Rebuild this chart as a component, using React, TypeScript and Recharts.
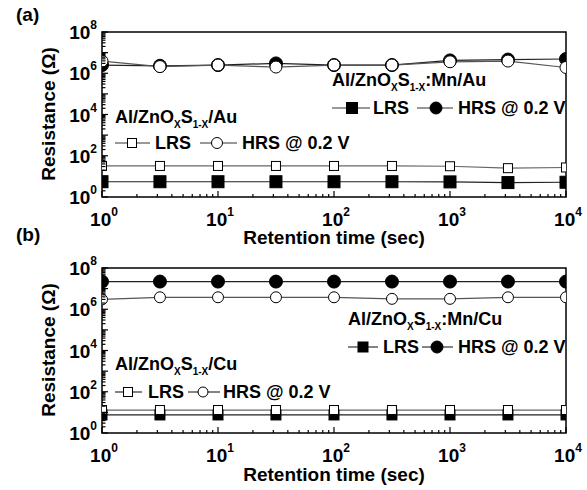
import React from 'react'
import { LineChart, Line, XAxis, YAxis, ReferenceArea } from 'recharts'

// retention times (sec), half-decade steps
const times = [1, 3.16, 10, 31.6, 100, 316, 1000, 3160, 10000]

// panel (a): Al/ZnOxS1-x/Au and Al/ZnOxS1-x:Mn/Au
const auLrsA = [32, 32, 32, 32, 32, 32, 31, 25, 27]
const auHrsA = [3.9e6, 2.1e6, 2.5e6, 2.0e6, 2.5e6, 2.5e6, 3.6e6, 3.9e6, 1.9e6]
const mnLrsA = [5.5, 5.5, 5.5, 5.5, 5.5, 5.5, 5.4, 5.0, 5.2]
const mnHrsA = [2.5e6, 2.3e6, 2.5e6, 3.0e6, 2.5e6, 2.5e6, 4.2e6, 4.6e6, 4.9e6]

// panel (b): Al/ZnOxS1-x/Cu and Al/ZnOxS1-x:Mn/Cu
const cuLrsB = [13, 13, 13, 13, 13, 13, 13, 13, 13]
const cuHrsB = [3.0e6, 3.8e6, 3.8e6, 3.8e6, 3.8e6, 3.2e6, 3.2e6, 3.8e6, 3.8e6]
const mnLrsB = [7.5, 7.5, 7.5, 7.5, 7.5, 7.5, 7.5, 7.5, 7.5]
const mnHrsB = [2.2e7, 2.2e7, 2.2e7, 2.2e7, 2.2e7, 2.2e7, 2.2e7, 2.2e7, 2.2e7]

const xDecades = [1, 10, 100, 1000, 10000]
const yDecades = [1, 10, 100, 1e3, 1e4, 1e5, 1e6, 1e7, 1e8]
const minorSteps = [2, 3, 4, 5, 6, 7, 8, 9]

const withMinor = (decs: number[]) => {
  const out: number[] = []
  decs.forEach((d, i) => {
    out.push(d)
    if (i < decs.length - 1) minorSteps.forEach((m) => out.push(d * m))
  })
  return out
}
const xTicks = withMinor(xDecades)
const yTicks = withMinor(yDecades)

const FONT = '"Liberation Sans", Arial, sans-serif'
const CLIP = 'url(#plotClip)'

const isMajor = (v: number) => {
  const p = Math.log10(v)
  return Math.abs(p - Math.round(p)) < 1e-6
}

function XTick(props: any) {
  const { x, y, payload } = props
  const v = payload.value
  const major = isMajor(v)
  return (
    <g>
      <line x1={x} x2={x} y1={y} y2={y - (major ? 6 : 3)} stroke="#000" strokeWidth={1.2} />
      {major && (
        <text x={x + 2} y={y + 29} textAnchor="middle" fontFamily={FONT} fontWeight="bold" fontSize={19} fill="#000">
          <tspan>10</tspan>
          <tspan dy={-10} fontSize={12}>{Math.round(Math.log10(v))}</tspan>
        </text>
      )}
    </g>
  )
}

function YTick(props: any) {
  const { x, y, payload } = props
  const v = payload.value
  const major = isMajor(v)
  const p = Math.round(Math.log10(v))
  return (
    <g>
      <line x1={x} x2={x + (major ? 6 : 3.5)} y1={y} y2={y} stroke="#000" strokeWidth={1.2} />
      {major && p % 2 === 0 && (
        <text x={x - 5} y={y + 7} textAnchor="end" fontFamily={FONT} fontWeight="bold" fontSize={19} fill="#000">
          <tspan>10</tspan>
          <tspan dy={-10} fontSize={12}>{p}</tspan>
        </text>
      )}
    </g>
  )
}

function square(size: number, filled: boolean) {
  return (p: any) => {
    if (p.cx == null || p.cy == null) return <g key={p.index} />
    return (
      <rect
        key={p.index}
        x={p.cx - size / 2}
        y={p.cy - size / 2}
        width={size}
        height={size}
        fill={filled ? '#000' : '#fff'}
        stroke="#000"
        strokeWidth={1}
        clipPath={CLIP}
      />
    )
  }
}

function circle(r: number, filled: boolean) {
  return (p: any) => {
    if (p.cx == null || p.cy == null) return <g key={p.index} />
    return (
      <circle key={p.index} cx={p.cx} cy={p.cy} r={r} fill={filled ? '#000' : '#fff'} stroke="#000" strokeWidth={1} clipPath={CLIP} />
    )
  }
}

interface PanelProps {
  top: number
  lrsOpen: number[]
  hrsOpen: number[]
  lrsFilled: number[]
  hrsFilled: number[]
  bigMarkers: boolean
}

function Panel({ top, lrsOpen, hrsOpen, lrsFilled, hrsFilled, bigMarkers }: PanelProps) {
  const data = times.map((t, i) => ({
    t,
    lrsOpen: lrsOpen[i],
    hrsOpen: hrsOpen[i],
    lrsFilled: lrsFilled[i],
    hrsFilled: hrsFilled[i],
  }))
  return (
    <div style={{ position: 'absolute', left: 0, top }}>
      <LineChart width={587} height={250} data={data} margin={{ top: 32, right: 21, left: 101, bottom: 52 }}>
        <XAxis
          dataKey="t"
          type="number"
          scale="log"
          domain={[1, 10000]}
          ticks={xTicks}
          interval={0}
          allowDataOverflow
          axisLine={false}
          tickLine={false}
          tickSize={0}
          tickMargin={0}
          height={1}
          tick={<XTick />}
        />
        <YAxis
          type="number"
          scale="log"
          domain={[1, 1e8]}
          ticks={yTicks}
          interval={0}
          allowDataOverflow
          axisLine={false}
          tickLine={false}
          tickSize={0}
          tickMargin={0}
          width={1}
          tick={<YTick />}
        />
        <ReferenceArea x1={1} x2={10000} y1={1} y2={1e8} fill="none" stroke="#000" strokeWidth={1.5} />
        <Line dataKey="lrsFilled" stroke="#222" strokeWidth={1.2} dot={square(bigMarkers ? 12 : 10, true)} isAnimationActive={false} />
        <Line dataKey="lrsOpen" stroke="#666" strokeWidth={1.2} dot={square(9, false)} isAnimationActive={false} />
        <Line dataKey="hrsFilled" stroke="#222" strokeWidth={1.2} dot={circle(6.5, true)} isAnimationActive={false} />
        <Line dataKey="hrsOpen" stroke="#555" strokeWidth={1.2} dot={circle(bigMarkers ? 6 : 5.5, false)} isAnimationActive={false} />
      </LineChart>
    </div>
  )
}

function Title({ x, y, tail }: { x: number; y: number; tail: string }) {
  return (
    <text x={x} y={y} fontFamily={FONT} fontWeight="bold" fontSize={18} fill="#000">
      <tspan>Al/ZnO</tspan>
      <tspan dy={5} fontSize={10}>X</tspan>
      <tspan dy={-5}>S</tspan>
      <tspan dy={5} fontSize={10}>1-X</tspan>
      <tspan dy={-5}>{tail}</tspan>
    </text>
  )
}

function LegendRow(props: {
  y: number
  l1: [number, number, number]
  t1: number
  l2: [number, number, number]
  t2: number
  filled: boolean
  sq: number
  r: number
}) {
  const { y, l1, t1, l2, t2, filled, sq, r } = props
  const fill = filled ? '#000' : '#fff'
  return (
    <g>
      <line x1={l1[0]} x2={l1[2]} y1={y} y2={y} stroke="#333" strokeWidth={1.2} />
      <rect x={l1[1] - sq / 2} y={y - sq / 2} width={sq} height={sq} fill={fill} stroke="#000" />
      <text x={t1} y={y + 6} fontFamily={FONT} fontWeight="bold" fontSize={18}>LRS</text>
      <line x1={l2[0]} x2={l2[2]} y1={y} y2={y} stroke="#333" strokeWidth={1.2} />
      <circle cx={l2[1]} cy={y} r={r} fill={fill} stroke="#000" />
      <text x={t2} y={y + 6} fontFamily={FONT} fontWeight="bold" fontSize={18}>HRS @ 0.2 V</text>
    </g>
  )
}

function Overlay() {
  const label = { fontFamily: FONT, fontWeight: 'bold' as const, fontSize: 19, fill: '#000' }
  return (
    <svg width={587} height={490} style={{ position: 'absolute', left: 0, top: 0, pointerEvents: 'none' }}>
      <defs>
        {/* plot area of each panel, in the chart's own coordinates */}
        <clipPath id="plotClip">
          <rect x={102} y={32} width={464} height={165} />
        </clipPath>
      </defs>
      <text x={16} y={21} {...label}>(a)</text>
      <text x={16} y={241} {...label}>(b)</text>
      <text x={0} y={0} {...label} textAnchor="middle" transform="translate(55 114) rotate(-90)">Resistance (Ω)</text>
      <text x={0} y={0} {...label} textAnchor="middle" transform="translate(55 350) rotate(-90)">Resistance (Ω)</text>
      <text x={334} y={244} {...label} textAnchor="middle">Retention time (sec)</text>
      <text x={334} y={481} {...label} textAnchor="middle">Retention time (sec)</text>

      <Title x={115} y={123} tail="/Au" />
      <LegendRow y={143} l1={[115, 132, 150]} t1={155} l2={[200, 217, 237]} t2={242} filled={false} sq={9} r={5.5} />
      <Title x={332} y={86} tail=":Mn/Au" />
      <LegendRow y={108} l1={[332, 352, 370]} t1={373} l2={[417, 436, 453]} t2={458} filled sq={11} r={6} />

      <Title x={115} y={370} tail="/Cu" />
      <LegendRow y={392} l1={[115, 128, 142]} t1={148} l2={[188, 203, 220]} t2={223} filled={false} sq={9} r={5} />
      <Title x={348} y={325} tail=":Mn/Cu" />
      <LegendRow y={347} l1={[348, 363, 378]} t1={383} l2={[422, 437, 453]} t2={458} filled sq={10} r={6} />
    </svg>
  )
}

export default function App() {
  return (
    <div style={{ position: 'absolute', left: 0, top: 0, width: 587, height: 490, background: '#fff' }}>
      <Panel top={0} lrsOpen={auLrsA} hrsOpen={auHrsA} lrsFilled={mnLrsA} hrsFilled={mnHrsA} bigMarkers />
      <Panel top={236} lrsOpen={cuLrsB} hrsOpen={cuHrsB} lrsFilled={mnLrsB} hrsFilled={mnHrsB} bigMarkers={false} />
      <Overlay />
    </div>
  )
}
